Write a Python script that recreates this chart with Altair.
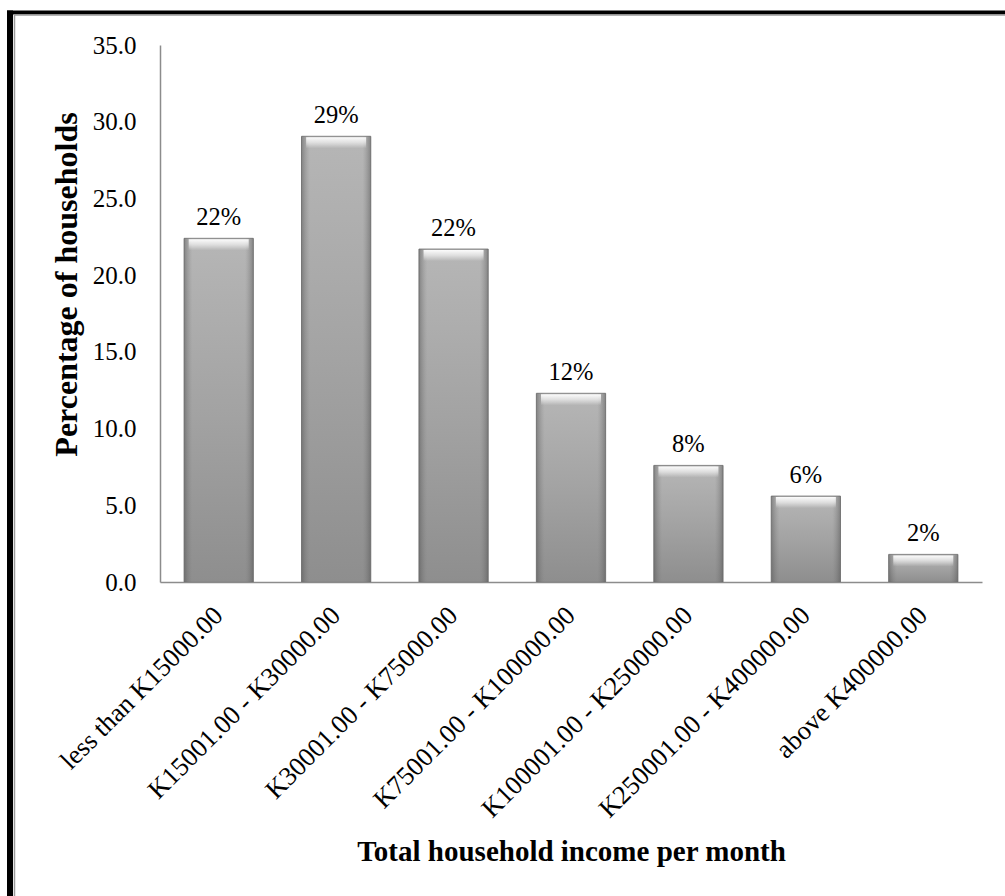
import altair as alt
import pandas as pd

# Share of households by total monthly income band
income_bands = [
    "less than K15000.00",
    "K15001.00 - K30000.00",
    "K30001.00 - K75000.00",
    "K75001.00 - K100000.00",
    "K100001.00 - K250000.00",
    "K250001.00 - K400000.00",
    "above K400000.00",
]
pct_households = [22.4, 29.05, 21.7, 12.3, 7.6, 5.6, 1.8]

df = pd.DataFrame({"band": income_bands, "pct": pct_households})

FONT = "Liberation Serif"
W, H = 822, 537
PAD_L, PAD_T, PAD_R, PAD_B = 160, 45, 23, 314

x_enc = alt.X(
    "band:N",
    sort=income_bands,
    scale=alt.Scale(paddingInner=0.41, paddingOuter=0.205),
    axis=alt.Axis(
        title="Total household income per month",
        labelAngle=-45,
        labelAlign="right",
        labelBaseline="middle",
        labelPadding=29,
        labelFont=FONT,
        labelFontSize=26.5,
        labelColor="black",
        labelLimit=400,
        ticks=False,
        domainColor="#8c8c8c",
        domainWidth=1.5,
        titleFont=FONT,
        titleFontSize=29,
        titleFontWeight="bold",
        titleColor="black",
        titleX=W / 2,
        titleY=269,
        titleAlign="center",
        titleBaseline="middle",
    ),
)
y_enc = alt.Y(
    "pct:Q",
    scale=alt.Scale(domain=[0, 35], nice=False),
    axis=alt.Axis(
        title="Percentage of households",
        values=[0, 5, 10, 15, 20, 25, 30, 35],
        format=".1f",
        grid=False,
        ticks=False,
        labelPadding=24,
        labelFont=FONT,
        labelFontSize=25,
        labelColor="black",
        domainColor="#8c8c8c",
        domainWidth=1.5,
        titleFont=FONT,
        titleFontSize=32,
        titleFontWeight="bold",
        titleColor="black",
        titleAngle=-90,
        titleX=-94,
        titleY=239,
        titleAlign="center",
        titleBaseline="middle",
    ),
)

base = alt.Chart(df).encode(x=x_enc, y=y_enc)

# grey bars, lighter at the top and darker toward the base
bars = base.mark_bar(
    color=alt.Gradient(
        gradient="linear",
        stops=[
            alt.GradientStop(color="#b6b6b6", offset=0),
            alt.GradientStop(color="#a3a3a3", offset=0.5),
            alt.GradientStop(color="#8e8e8e", offset=1),
        ],
        x1=0, x2=0, y1=0, y2=1,
    ),
    stroke="#858585",
    strokeWidth=1,
)

# darker side edges for a bevelled look
edges = base.mark_bar(
    color=alt.Gradient(
        gradient="linear",
        stops=[
            alt.GradientStop(color="rgba(70,70,70,0.45)", offset=0),
            alt.GradientStop(color="rgba(120,120,120,0)", offset=0.12),
            alt.GradientStop(color="rgba(120,120,120,0)", offset=0.88),
            alt.GradientStop(color="rgba(70,70,70,0.45)", offset=1),
        ],
        x1=0, x2=1, y1=0, y2=0,
    ),
)

# soft highlight fading down from each bar's top edge
highlight = base.mark_tick(
    color=alt.Gradient(
        gradient="linear",
        stops=[
            alt.GradientStop(color="rgba(255,255,255,0.95)", offset=0),
            alt.GradientStop(color="rgba(255,255,255,0.55)", offset=0.5),
            alt.GradientStop(color="rgba(255,255,255,0)", offset=1),
        ],
        x1=0, x2=0, y1=0, y2=1,
    ),
    opacity=1,
    thickness=11,
    size=60,
    yOffset=6.5,
)

labels = base.transform_calculate(
    label="format(datum.pct, '.0f') + '%'"
).mark_text(
    font=FONT, fontSize=24.5, color="black", baseline="alphabetic", dy=-13
).encode(text="label:N")

# frame: thick black line with a thin grey inner line, top and left
frame_src = alt.Chart(pd.DataFrame({"k": [0]}))
top_black = frame_src.mark_rule(color="black", strokeWidth=4).encode(
    x=alt.value(-153), x2=alt.value(W + PAD_R), y=alt.value(-32.5)
)
top_grey = frame_src.mark_rule(color="#9a9a9a", strokeWidth=1.5).encode(
    x=alt.value(-146), x2=alt.value(W + PAD_R), y=alt.value(-30)
)
left_black = frame_src.mark_rule(color="black", strokeWidth=6).encode(
    x=alt.value(-150), y=alt.value(-34.5), y2=alt.value(H + PAD_B)
)
left_grey = frame_src.mark_rule(color="#9a9a9a", strokeWidth=1.5).encode(
    x=alt.value(-145.5), y=alt.value(-30.5), y2=alt.value(H + PAD_B)
)

chart = alt.layer(
    bars, edges, highlight, labels, top_black, top_grey, left_black, left_grey
).properties(
    width=W,
    height=H,
    padding={"left": PAD_L, "top": PAD_T, "right": PAD_R, "bottom": PAD_B},
    autosize=alt.AutoSizeParams(type="none"),
    background="white",
).configure_view(stroke=None)

chart.save("out.html", embed_options={"renderer": "svg", "actions": False})
